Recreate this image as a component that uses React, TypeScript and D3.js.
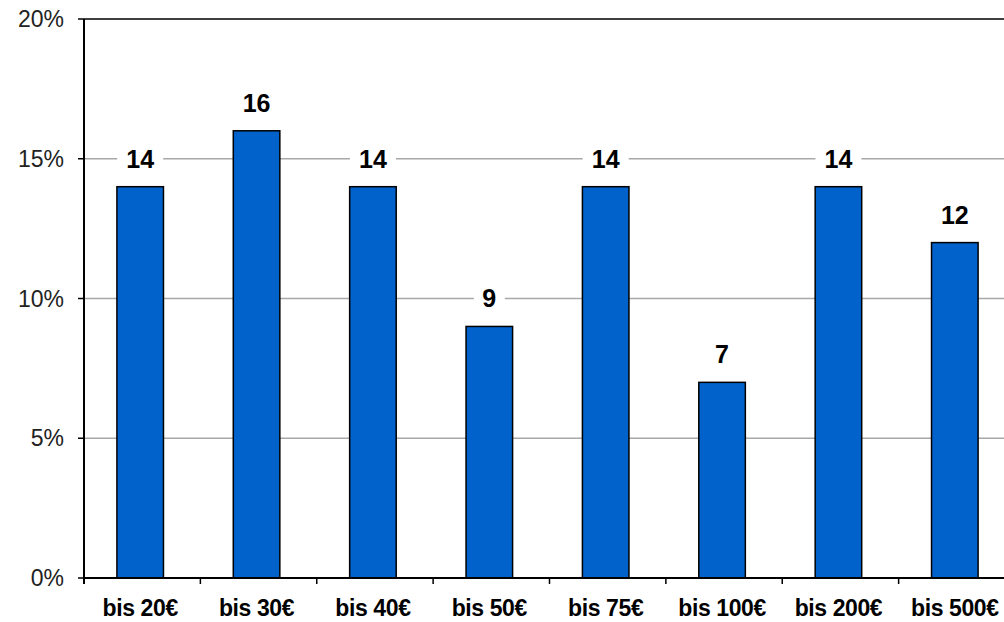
import React from "react";
import * as d3 from "d3";

const categories = ["bis 20€", "bis 30€", "bis 40€", "bis 50€", "bis 75€", "bis 100€", "bis 200€", "bis 500€"];
const values = [14, 16, 14, 9, 14, 7, 14, 12];
const yTicks = [0, 5, 10, 15, 20];

const W = 1004;
const H = 622;
const left = 84;
const top = 19;
const bottom = 578;
const plotRight = 1015;

export default function App() {
  // bars sit a touch left of the category band centres
  const x = d3.scaleBand<string>().domain(categories).range([left - 2, plotRight - 2]).paddingInner(0.6).paddingOuter(0.3);
  const xb = d3.scaleBand<string>().domain(categories).range([left, plotRight]);
  const y = d3.scaleLinear().domain([0, 20]).range([bottom, top]);
  const fontLabel = "'Liberation Sans', Arial, sans-serif";

  return (
    <svg width={W} height={H} style={{ position: "absolute", left: 0, top: 0, background: "#fff" }}>
      <rect x={0} y={0} width={W} height={H} fill="#fff" />
      {/* gridlines */}
      {yTicks.filter((t) => t > 0 && t < 20).map((t) => (
        <line key={t} x1={left} x2={W} y1={y(t)} y2={y(t)} stroke="#a8a8a8" strokeWidth={1.5} />
      ))}
      {/* top border */}
      <line x1={left} x2={W} y1={y(20)} y2={y(20)} stroke="#404040" strokeWidth={2} />
      {/* bars */}
      {categories.map((c, i) => (
        <rect
          key={c}
          x={x(c)!}
          y={y(values[i])}
          width={x.bandwidth()}
          height={bottom - y(values[i])}
          fill="#0062CA"
          stroke="#000"
          strokeWidth={1.5}
        />
      ))}
      {/* value labels */}
      {categories.map((c, i) => {
        const cx = x(c)! + x.bandwidth() / 2;
        const cy = y(values[i]) - 28;
        const label = String(values[i]);
        const bw = label.length * 15 + 16;
        return (
          <g key={c}>
            <rect x={cx - bw / 2} y={cy - 13} width={bw} height={26} fill="#fff" />
            <text
              x={cx}
              y={cy}
              textAnchor="middle"
              dominantBaseline="central"
              fontFamily={fontLabel}
              fontWeight="bold"
              fontSize={25}
              fill="#000"
            >
              {label}
            </text>
          </g>
        );
      })}
      {/* axes */}
      <line x1={left} x2={left} y1={top} y2={bottom + 6} stroke="#000" strokeWidth={2} />
      <line x1={left} x2={W} y1={bottom} y2={bottom} stroke="#000" strokeWidth={2} />
      {yTicks.map((t) => (
        <g key={t}>
          <line x1={left - 6} x2={left} y1={y(t)} y2={y(t)} stroke="#000" strokeWidth={1.5} />
          <text
            x={left - 20}
            y={y(t)}
            textAnchor="end"
            dominantBaseline="central"
            fontFamily={fontLabel}
            fontSize={23}
            fill="#222"
          >
            {t}%
          </text>
        </g>
      ))}
      {categories.slice(1).map((c) => (
        <line key={c} x1={xb(c)!} x2={xb(c)!} y1={bottom} y2={bottom + 6} stroke="#000" strokeWidth={1.5} />
      ))}
      {categories.map((c) => (
        <text
          key={c}
          x={x(c)! + x.bandwidth() / 2}
          y={608}
          textAnchor="middle"
          dominantBaseline="central"
          fontFamily={fontLabel}
          fontWeight="bold"
          fontSize={23}
          letterSpacing={-0.4}
          fill="#000"
        >
          {c}
        </text>
      ))}
    </svg>
  );
}
